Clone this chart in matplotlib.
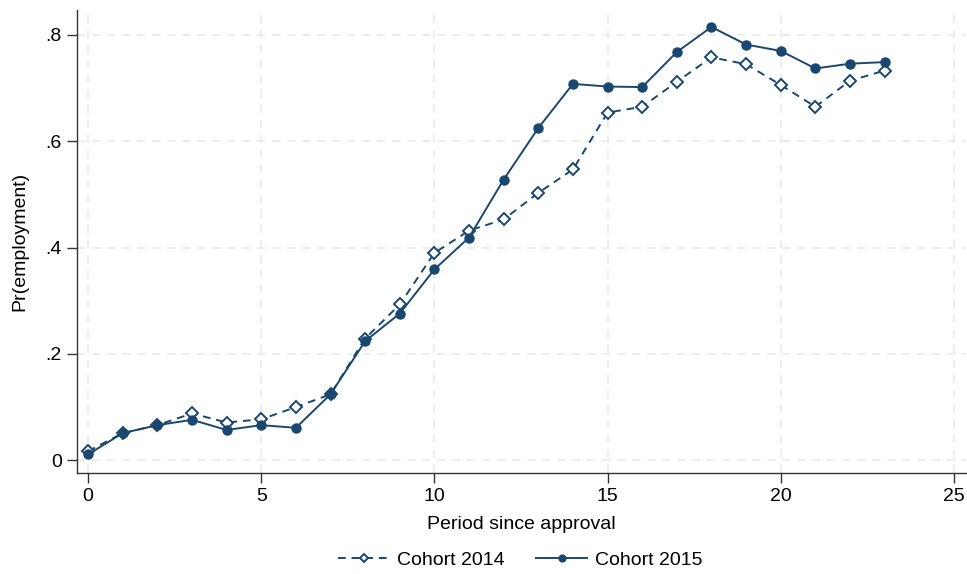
import matplotlib
matplotlib.use('Agg')
import matplotlib.pyplot as plt

plt.rcParams['font.family'] = ['Liberation Sans', 'DejaVu Sans']

periods = list(range(24))
cohort_2014 = [0.017, 0.051, 0.066, 0.088, 0.071, 0.077, 0.100, 0.124,
               0.229, 0.293, 0.390, 0.432, 0.453, 0.503, 0.547, 0.654,
               0.665, 0.712, 0.758, 0.745, 0.706, 0.665, 0.714, 0.733]
cohort_2015 = [0.011, 0.051, 0.066, 0.076, 0.057, 0.066, 0.061, 0.124,
               0.224, 0.276, 0.359, 0.419, 0.528, 0.625, 0.708, 0.703,
               0.702, 0.768, 0.815, 0.782, 0.770, 0.737, 0.746, 0.749]
x_ticks = [0, 5, 10, 15, 20, 25]
y_ticks = [0, 0.2, 0.4, 0.6, 0.8]
y_labels = ['0', '.2', '.4', '.6', '.8']

navy = '#1a476f'
fs = 14

fig = plt.figure(figsize=(9.67, 5.74), dpi=100)
ax = fig.add_axes([77 / 967, 1 - 473 / 574, 1 - 77 / 967 - 0.001, (473 - 10) / 574])

ax.plot(periods, cohort_2014, color=navy, linestyle=(0, (4, 3)), linewidth=1.4,
        marker='D', markersize=6, markerfacecolor='white', markeredgecolor=navy,
        markeredgewidth=1.4, label='Cohort 2014', zorder=3)
ax.plot(periods, cohort_2015, color=navy, linestyle='-', linewidth=1.4,
        marker='o', markersize=6.5, markerfacecolor=navy, markeredgecolor=navy,
        label='Cohort 2015', zorder=4)

ax.set_xlim(-0.32, 25.35)
ax.set_ylim(-0.024, 0.847)
ax.set_xticks(x_ticks)
ax.set_yticks(y_ticks)
ax.set_yticklabels(y_labels)

ax.grid(True, color='#eaeaea', linestyle=(0, (5, 4)), linewidth=1.2)
ax.set_axisbelow(True)

for side in ['top', 'right']:
    ax.spines[side].set_visible(False)
for side in ['left', 'bottom']:
    ax.spines[side].set_color('#333333')
    ax.spines[side].set_linewidth(1.0)

ax.tick_params(axis='both', direction='out', length=7, width=1.0, color='#333333',
               labelsize=fs, labelcolor='black')
ax.tick_params(axis='x', pad=4)
ax.tick_params(axis='y', pad=4)

ax.set_xlabel('Period since approval', fontsize=fs, labelpad=8)
ax.set_ylabel('Pr(employment)', fontsize=fs, labelpad=12)

fig.legend(loc='lower center', bbox_to_anchor=(0.538, -0.022), ncol=2, frameon=False,
           fontsize=fs, handlelength=2.6, handletextpad=0.4, columnspacing=1.65,
           markerscale=0.75)

fig.savefig('out.png', dpi=100)
